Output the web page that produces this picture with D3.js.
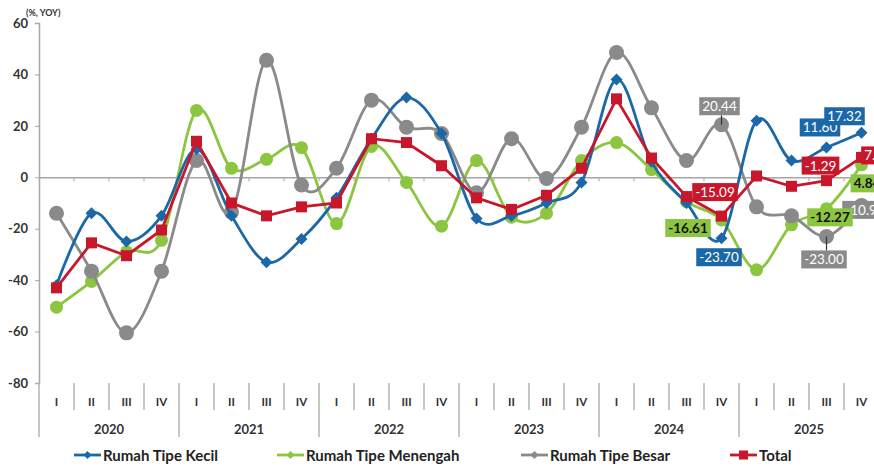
<!DOCTYPE html>
<html>
  <head>
    <meta charset="utf-8" />
    <title>Harga Properti Residensial</title>
    <script src="https://d3js.org/d3.v7.min.js"></script>
    <style>
      body {
        margin: 0;
        background-color: #ffffff;
      }
      text {
        font-family: Lato, "DejaVu Sans Condensed", sans-serif;
      }
    </style>
  </head>
  <body>
    <svg id="chart"></svg>

    <script>

      // data
      var years = ["2020", "2021", "2022", "2023", "2024", "2025"];
      var quarters = ["I", "II", "III", "IV"];
      var yTicks = [60, 40, 20, 0, -20, -40, -60, -80];

      var kecil =    [-42, -14, -25, -15, 11, -15, -33, -24, -8, 15, 31, 17, -16, -15, -10, -2, 38, 6, -10, -23.70, 22, 6.5, 11.60, 17.32];
      var menengah = [-50.5, -40.5, -29, -24.5, 26, 3.5, 7, 11.5, -18, 12, -2, -19, 6.5, -15.5, -14, 6.5, 13.5, 3, -9.5, -16.61, -36, -18.5, -12.27, 4.84];
      var besar =    [-14, -36.5, -60.5, -36.5, 6.5, -13.5, 45.5, -3, 3.5, 30, 19.5, 17, -6, 15, -0.5, 19.5, 48.5, 27, 6.5, 20.44, -11.5, -15, -23.00, -10.93];
      var total =    [-43, -25.5, -30.5, -20.5, 14, -10, -15, -11.5, -10, 15, 13.5, 4.5, -8, -12.5, -7, 3.5, 30.5, 7.5, -7.5, -15.09, 0.5, -3.5, -1.29, 7.73];

      var seriesNames = ["Rumah Tipe Kecil", "Rumah Tipe Menengah", "Rumah Tipe Besar", "Total"];

      var width = 874;
      var height = 466;
      var margin = { top: 23, left: 39, bottom: 383, right: 879 };

      var svg = d3.select("#chart")
        .attr("width", width)
        .attr("height", height)
        .style("display", "block");

      var periods = [];
      years.forEach(function(y) {
        quarters.forEach(function(q) {
          periods.push(y + "-" + q);
        });
      });

      var x = d3.scaleBand()
        .domain(periods)
        .range([margin.left, margin.right]);

      var xYear = d3.scaleBand()
        .domain(years)
        .range([margin.left, margin.right]);

      var y = d3.scaleLinear()
        .domain([-80, 60])
        .range([margin.bottom, margin.top]);

      function cx(i) {
        return x(periods[i]) + x.bandwidth() / 2;
      }

      // plain hyphen for negatives, like the original
      function fmt(v, digits) {
        return v.toFixed(digits);
      }

      var series = [
        { name: seriesNames[1], values: menengah, color: "#8cc540", shape: "circle", size: 6.5, curve: d3.curveCardinal.tension(0) },
        { name: seriesNames[2], values: besar, color: "#8a8a8a", shape: "circle", size: 7.5, curve: d3.curveCardinal.tension(0) },
        { name: seriesNames[0], values: kecil, color: "#1b68a8", shape: "diamond", size: 6, curve: d3.curveCardinal.tension(0) },
        { name: seriesNames[3], values: total, color: "#c8162b", shape: "square", size: 5.5, curve: d3.curveLinear }
      ];

      // y axis
      var yAxis = d3.axisLeft(y).tickValues(yTicks).tickSize(4).tickFormat(function(d) { return fmt(d, 0); });
      var gy = svg.append("g")
        .attr("transform", "translate(" + margin.left + ",0)")
        .call(yAxis);
      gy.select(".domain").attr("stroke", "#a6a6a6").attr("stroke-width", 1.5);
      gy.selectAll(".tick line").attr("stroke", "#a6a6a6");
      gy.selectAll(".tick text")
        .attr("x", -11)
        .attr("fill", "#333")
        .attr("font-size", "13px")
        .attr("font-weight", "bold")
        .style("font-family", "Lato, sans-serif");

      svg.append("text")
        .attr("x", 26)
        .attr("y", 16)
        .attr("font-size", "9px")
        .attr("font-weight", "bold")
        .attr("fill", "#333")
        .text("(%, YOY)");

      // zero line with ticks
      var xAxis = d3.axisBottom(x).tickSize(0).tickFormat("");
      var gx = svg.append("g")
        .attr("transform", "translate(0," + y(0) + ")")
        .call(xAxis);
      gx.select(".domain").attr("stroke", "#a6a6a6").attr("stroke-width", 1.5);
      gx.selectAll(".tick").remove();
      gx.selectAll(".zt")
        .data(periods.slice(1))
        .enter().append("line")
        .attr("x1", function(d) { return x(d); })
        .attr("x2", function(d) { return x(d); })
        .attr("y1", 0)
        .attr("y2", 4)
        .attr("stroke", "#a6a6a6");

      // category axis at bottom
      var cat = svg.append("g");
      cat.selectAll(".qsep")
        .data(periods.filter(function(d, i) { return i % 4 !== 0; }))
        .enter().append("line")
        .attr("x1", function(d) { return x(d); })
        .attr("x2", function(d) { return x(d); })
        .attr("y1", 383)
        .attr("y2", 410)
        .attr("stroke", "#b3b3b3")
        .attr("stroke-width", 1.5);
      cat.selectAll(".ysep")
        .data(years.concat(["end"]))
        .enter().append("line")
        .attr("x1", function(d, i) { return margin.left + i * xYear.bandwidth(); })
        .attr("x2", function(d, i) { return margin.left + i * xYear.bandwidth(); })
        .attr("y1", 383)
        .attr("y2", 437)
        .attr("stroke", "#b3b3b3")
        .attr("stroke-width", 1.5);
      cat.selectAll(".qlab")
        .data(periods)
        .enter().append("text")
        .attr("x", function(d) { return x(d) + x.bandwidth() / 2; })
        .attr("y", 406)
        .attr("text-anchor", "middle")
        .attr("font-size", "11.5px")
        .attr("font-weight", "bold")
        .attr("fill", "#333")
        .text(function(d) { return d.split("-")[1]; });
      cat.selectAll(".ylab")
        .data(years)
        .enter().append("text")
        .attr("x", function(d) { return xYear(d) + xYear.bandwidth() / 2; })
        .attr("y", 434)
        .attr("text-anchor", "middle")
        .attr("font-size", "13px")
        .attr("font-weight", "bold")
        .attr("fill", "#333")
        .text(function(d) { return d; });

      function drawMarker(g, shape, size, color) {
        if (shape === "circle") {
          g.append("circle").attr("r", size).attr("fill", color);
        } else if (shape === "square") {
          g.append("rect")
            .attr("x", -size).attr("y", -size)
            .attr("width", size * 2).attr("height", size * 2)
            .attr("fill", color);
        } else {
          g.append("path")
            .attr("d", "M0," + (-size) + "L" + size + ",0L0," + size + "L" + (-size) + ",0Z")
            .attr("fill", color);
        }
      }

      // lines and markers
      series.forEach(function(s) {
        var line = d3.line()
          .x(function(d, i) { return cx(i); })
          .y(function(d) { return y(d); })
          .curve(s.curve);

        svg.append("path")
          .datum(s.values)
          .attr("d", line)
          .attr("fill", "none")
          .attr("stroke", s.color)
          .attr("stroke-width", 2.8);

        s.values.forEach(function(v, i) {
          var g = svg.append("g").attr("transform", "translate(" + cx(i) + "," + y(v) + ")");
          drawMarker(g, s.shape, s.size, s.color);
        });
      });

      // data labels on recent points
      var labels = [
        { s: 2, i: 19, dx: -2, dy: -18.5, lead: true },
        { s: 0, i: 22, dx: -6.5, dy: -20 },
        { s: 0, i: 23, dx: -17, dy: -16.5 },
        { s: 3, i: 19, dx: -6.5, dy: -24 },
        { s: 3, i: 22, dx: -6, dy: -15 },
        { s: 3, i: 23, dx: 16, dy: -2 },
        { s: 1, i: 19, dx: -33.5, dy: 8 },
        { s: 0, i: 19, dx: -2.5, dy: 19 },
        { s: 2, i: 23, dx: 3.5, dy: 4.5 },
        { s: 1, i: 22, dx: 3.5, dy: 8.5 },
        { s: 2, i: 22, dx: -2.5, dy: 23, lead: true },
        { s: 1, i: 23, dx: 5.5, dy: 18.5 }
      ];
      var seriesByIdx = [
        { values: kecil, color: "#1b68a8", text: "#ffffff", weight: "normal" },
        { values: menengah, color: "#8cc540", text: "#111111", weight: "bold" },
        { values: besar, color: "#8a8a8a", text: "#ffffff", weight: "normal" },
        { values: total, color: "#c8162b", text: "#ffffff", weight: "normal" }
      ];

      labels.forEach(function(l) {
        var s = seriesByIdx[l.s];
        var v = s.values[l.i];
        var px = cx(l.i);
        var py = y(v);
        if (l.lead) {
          svg.append("line")
            .attr("x1", px).attr("y1", py)
            .attr("x2", px).attr("y2", py + l.dy + (l.dy < 0 ? 9 : -9))
            .attr("stroke", "#333")
            .attr("stroke-width", 1.2);
        }
        var g = svg.append("g").attr("transform", "translate(" + (px + l.dx) + "," + (py + l.dy) + ")");
        var t = g.append("text")
          .attr("text-anchor", "middle")
          .attr("y", 5)
          .attr("font-size", "13.5px")
          .attr("font-weight", s.weight)
          .attr("fill", s.text)
          .text(fmt(v, 2));
        var w = t.node().getComputedTextLength() + 6;
        g.insert("rect", "text")
          .attr("x", -w / 2).attr("y", -9)
          .attr("width", w).attr("height", 18)
          .attr("fill", s.color);
      });

      // legend
      var legendItems = [
        { name: seriesNames[0], x: 74, color: "#1b68a8", shape: "diamond", size: 4 },
        { name: seriesNames[1], x: 277, color: "#8cc540", shape: "diamond", size: 4 },
        { name: seriesNames[2], x: 521, color: "#8a8a8a", shape: "diamond", size: 4 },
        { name: seriesNames[3], x: 730, color: "#c8162b", shape: "square", size: 4.5 }
      ];
      var legend = svg.append("g").attr("transform", "translate(0,455)");
      legendItems.forEach(function(d) {
        legend.append("line")
          .attr("x1", d.x).attr("x2", d.x + 27)
          .attr("y1", 0).attr("y2", 0)
          .attr("stroke", d.color)
          .attr("stroke-width", 2.8);
        var m = legend.append("g").attr("transform", "translate(" + (d.x + 13.5) + ",0)");
        drawMarker(m, d.shape, d.size, d.color);
        legend.append("text")
          .attr("x", d.x + 29)
          .attr("y", 6)
          .attr("font-size", "15px")
          .attr("font-weight", "bold")
          .attr("fill", "#222")
          .text(d.name);
      });

    </script>
  </body>
</html>
